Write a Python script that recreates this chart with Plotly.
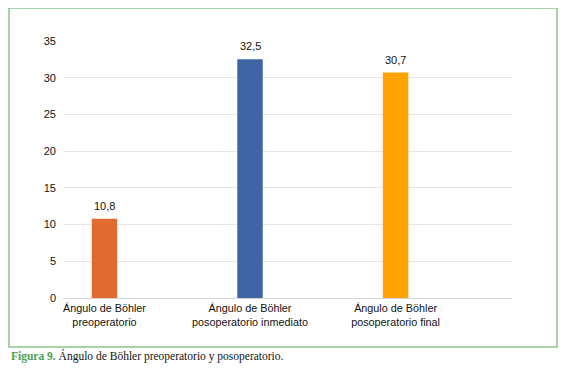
import plotly.graph_objects as go

categories = ["Ángulo de Böhler<br>preoperatorio",
              "Ángulo de Böhler<br>posoperatorio inmediato",
              "Ángulo de Böhler<br>posoperatorio final"]
values = [10.8, 32.5, 30.7]
colors = ["#E06A2F", "#3E64A6", "#FFA202"]
y_ticks = [0, 5, 10, 15, 20, 25, 30, 35]

labels = [f"{v:.1f}".replace(".", ",") for v in values]

OFF = 8  # page body margin
W, H = 567 - 2 * OFF, 374 - 2 * OFF
L, R, T, B = 63 - OFF, 55 - OFF, 41 - OFF, 76 - OFF
pw, ph = W - L - R, H - T - B

def px(x):
    return (x - OFF - L) / pw

def py(y):
    return (H - B - (y - OFF)) / ph

fig = go.Figure()
fig.add_trace(go.Bar(
    x=list(range(len(values))), y=values,
    marker=dict(color=colors, line=dict(width=0)),
    width=0.175,
))

annotations = [dict(
    x=i, y=v, xref="x", yref="y", text=t, showarrow=False,
    xanchor="center", yanchor="bottom", yshift=5,
    font=dict(family="Liberation Sans, Arial", size=11, color="#111111"),
) for i, (v, t) in enumerate(zip(values, labels))]

annotations.append(dict(
    xref="paper", yref="paper", x=px(9), y=py(356),
    xanchor="left", yanchor="middle", showarrow=False,
    text="<b><span style='color:#4E9E4E'>Figura 9.</span></b> Ángulo de Böhler preoperatorio y posoperatorio.",
    font=dict(family="Liberation Serif, Times New Roman", size=11.5, color="#111111"),
))

fig.update_layout(
    width=W, height=H,
    margin=dict(l=L, r=R, t=T, b=B),
    paper_bgcolor="white", plot_bgcolor="white",
    showlegend=False,
    font=dict(family="Liberation Sans, Arial", size=11, color="#111111"),
    xaxis=dict(
        range=[-0.285, 2.80],
        tickmode="array", tickvals=list(range(len(categories))), ticktext=categories,
        showgrid=False, showline=True, linecolor="#d4d4d4", linewidth=1,
        ticks="", tickfont=dict(size=10.8, color="#111111"),
        ticklabelstandoff=0,
        zeroline=False,
    ),
    yaxis=dict(
        range=[0, 35], tickvals=y_ticks,
        showgrid=True, gridcolor="#e6e6e6", gridwidth=1,
        zeroline=False, showline=False, ticks="",
        tickfont=dict(size=11, color="#111111"),
        ticklabelstandoff=6,
    ),
    shapes=[dict(
        type="rect", xref="paper", yref="paper",
        x0=px(9), x1=px(557), y0=py(347), y1=py(8),
        line=dict(color="#8CC48A", width=1.5), fillcolor="rgba(0,0,0,0)",
        layer="below",
    )],
    annotations=annotations,
)

fig.write_html("out.html")
